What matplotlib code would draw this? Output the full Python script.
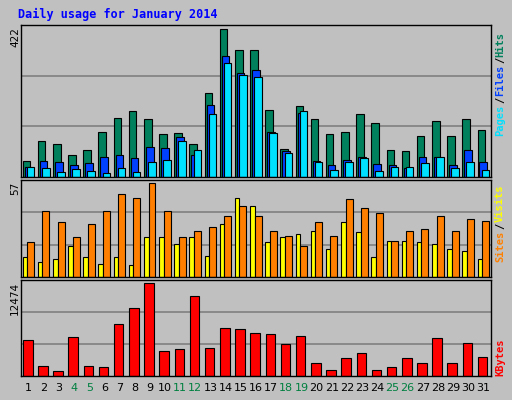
import matplotlib.pyplot as plt

days = list(range(1, 32))
weekend = [4, 5, 11, 12, 18, 19, 25, 26]

hits = [47, 104, 93, 64, 76, 130, 170, 190, 167, 124, 127, 93, 239, 422, 363, 363,
        193, 81, 202, 165, 124, 130, 179, 153, 78, 73, 116, 159, 116, 167, 133]
files = [30, 47, 44, 33, 41, 58, 64, 53, 87, 84, 113, 64, 205, 345, 297, 305,
         130, 73, 182, 47, 33, 50, 58, 38, 35, 27, 56, 58, 35, 78, 44]
pages = [30, 27, 15, 24, 18, 12, 27, 15, 44, 50, 104, 76, 179, 325, 291, 285,
         127, 70, 190, 44, 21, 44, 53, 18, 30, 30, 41, 58, 27, 44, 21]
visits = [12, 9, 11, 19, 12, 8, 12, 7, 24, 24, 20, 24, 13, 32, 48, 43,
          21, 24, 26, 28, 17, 33, 27, 12, 22, 22, 21, 20, 17, 16, 11]
sites = [21, 40, 33, 24, 32, 40, 50, 48, 57, 40, 24, 28, 30, 37, 43, 37,
         28, 25, 19, 33, 25, 47, 42, 39, 22, 28, 29, 37, 28, 35, 34]
kbytes = [4825, 1274, 728, 5233, 1274, 1138, 6916, 9055, 12474, 3322, 3595, 10693,
          3731, 6461, 6325, 5779, 5642, 4277, 5369, 1684, 865, 2366, 3049, 865,
          1138, 2366, 1684, 5096, 1684, 4414, 2503]

W, H = 512, 400
BG = '#c0c0c0'
fig = plt.figure(figsize=(W / 100, H / 100), dpi=100, facecolor=BG)
mono = 'DejaVu Sans Mono'


def make_ax(top, bottom, vmax):
    ax = fig.add_axes([21 / W, 1 - bottom / H, 470 / W, (bottom - top) / H])
    ax.set_facecolor(BG)
    ax.set_xlim(0, 31)
    lim = vmax * 1.03
    ax.set_ylim(0, lim)
    for g in (lim / 3, 2 * lim / 3):
        ax.axhline(g, color='#808080', lw=1.2, zorder=0)
    ax.set_xticks([])
    ax.set_yticks([])
    for s in ax.spines.values():
        s.set_color('black')
        s.set_linewidth(1)
    return ax


x = [d - 1 for d in days]
kw = dict(align='edge', edgecolor='black', linewidth=0.8)

ax1 = make_ax(25, 177, max(hits))
ax1.bar([i + 0.11 for i in x], hits, 0.5, color='#00805c', **kw)
ax1.bar([i + 0.24 for i in x], files, 0.5, color='#0040ff', **kw)
ax1.bar([i + 0.38 for i in x], pages, 0.5, color='#00e0ff', **kw)

ax2 = make_ax(180, 277, max(sites))
ax2.bar([i + 0.11 for i in x], visits, 0.3, color='#ffff00', **kw)
ax2.bar([i + 0.41 for i in x], sites, 0.46, color='#ff8000', **kw)

ax3 = make_ax(280, 376, max(kbytes))
ax3.bar([i + 0.13 for i in x], kbytes, 0.63, color='#ff0000', **kw)

for d in days:
    ax3.text(d - 0.5, -0.13, str(d), transform=ax3.get_xaxis_transform(),
             ha='center', va='center', fontsize=8,
             color='#008040' if d in weekend else 'black')

fig.text(18 / W, 1 - 14 / H, 'Daily usage for January 2014', color='#0000ff',
         fontsize=8.5, fontweight='bold', family=mono, va='center')

# left max labels
for val, ypix in ((max(hits), 27), (max(sites), 182), (max(kbytes), 282)):
    fig.text(15 / W, 1 - ypix / H, str(val), rotation=90, fontsize=7.5,
             ha='center', va='top')


# right side legends, bottom to top
def vlabel(parts, ybottom, step=6.6):
    y = ybottom
    for txt, col in parts:
        fig.text(500 / W, 1 - y / H, txt, rotation=90, color=col,
                 fontsize=7.5, fontweight='bold', family=mono,
                 ha='center', va='bottom')
        y -= len(txt) * step


vlabel([('Pages', '#00e0ff'), ('/', 'black'), ('Files', '#0040ff'),
        ('/', 'black'), ('Hits', '#00805c')], 136)
vlabel([('Sites', '#ff8000'), ('/', 'black'), ('Visits', '#ffff00')], 262)
vlabel([('KBytes', '#ff0000')], 376)

fig.savefig('out.png', dpi=100, facecolor=BG)
